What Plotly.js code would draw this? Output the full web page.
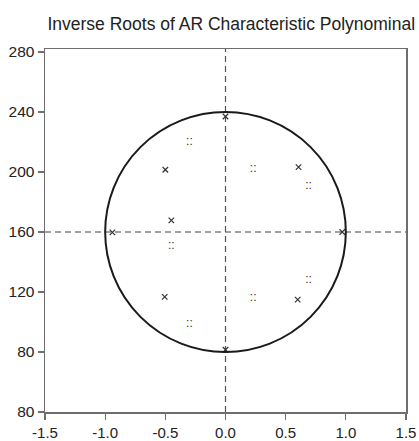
<!DOCTYPE html>
<html>
<head>
<meta charset="utf-8">
<script src="https://cdn.plot.ly/plotly-3.0.1.min.js"></script>
<style>html,body{margin:0;padding:0;background:#fff;}#chart{width:419px;height:441px;}</style>
</head>
<body>
<div id="chart"></div>
<script>
// Inverse roots marked "x"
var rootX = [-0.50, -0.45, -0.94, -0.505, 0.607, 0.60, 0.97, 0.0, 0.0];
var rootY = [201.5, 167.7, 159.7, 116.7, 203.3, 114.9, 160.0, 237.0, 81.5];
// Inverse roots marked "::"
var dotX = [-0.30, -0.45, -0.30, 0.23, 0.69, 0.69, 0.23];
var dotY = [219.7, 150.4, 98.9, 202.0, 190.7, 128.2, 116.2];
// Unit circle (x in real units, y in axis units)
var circleCenterX = 0, circleCenterY = 160, circleRadiusX = 1, circleRadiusY = 80;
// Axis ticks
var xTickVals = [-1.5, -1.0, -0.5, 0.0, 0.5, 1.0, 1.5];
var xTickLabels = ["-1.5", "-1.0", "-0.5", "0.0", "0.5", "1.0", "1.5"];
var yTickVals = [40, 80, 120, 160, 200, 240, 280];
var yTickLabels = ["80", "80", "120", "160", "200", "240", "280"];

var font = "Liberation Sans, Arial, sans-serif";
var axisCol = "#6e6e6e";

var traces = [
  {x: rootX, y: rootY, mode: "markers", type: "scatter",
   marker: {symbol: "x-thin", size: 5.5, line: {width: 1.2, color: "#333"}, color: "#333"},
   hoverinfo: "skip"},
  {x: dotX, y: dotY, mode: "text", type: "scatter", text: dotX.map(function(){return "::";}),
   textposition: "middle center", textfont: {family: font, size: 12, color: "#333"},
   hoverinfo: "skip"}
];

var layout = {
  width: 419, height: 441,
  margin: {l: 45, r: 13, t: 49, b: 29},
  paper_bgcolor: "#fff", plot_bgcolor: "#fff",
  showlegend: false,
  title: {text: "Inverse Roots of AR Characteristic Polynominal", x: 0.552, xanchor: "center", y: 0.946, yanchor: "middle",
          font: {family: font, size: 17.5, color: "#222"}},
  xaxis: {range: [-1.5, 1.5], tickvals: xTickVals, ticktext: xTickLabels, showgrid: false, zeroline: false,
          showline: true, linecolor: axisCol, linewidth: 1.5, mirror: true,
          ticks: "outside", ticklen: 6, tickcolor: axisCol, tickwidth: 1.2,
          tickfont: {family: font, size: 15, color: "#222"}},
  yaxis: {range: [40, 282], tickvals: yTickVals, ticktext: yTickLabels, showgrid: false, zeroline: false,
          showline: true, linecolor: axisCol, linewidth: 1.5, mirror: true,
          ticks: "outside", ticklen: 6, tickcolor: axisCol, tickwidth: 1.2,
          tickfont: {family: font, size: 15.5, color: "#222"}},
  shapes: [
    {type: "line", xref: "paper", x0: 0, x1: 1, yref: "y", y0: circleCenterY, y1: circleCenterY,
     line: {color: "#444", width: 1.2, dash: "6px,4px"}, layer: "below"},
    {type: "line", xref: "x", x0: circleCenterX, x1: circleCenterX, yref: "paper", y0: 0, y1: 1,
     line: {color: "#555", width: 1.2, dash: "6px,4px"}, layer: "below"},
    {type: "circle", xref: "x", yref: "y",
     x0: circleCenterX - circleRadiusX, x1: circleCenterX + circleRadiusX,
     y0: circleCenterY - circleRadiusY, y1: circleCenterY + circleRadiusY,
     line: {color: "#1a1a1a", width: 2}, layer: "above"}
  ]
};

Plotly.newPlot("chart", traces, layout, {displayModeBar: false, staticPlot: true});
</script>
</body>
</html>
